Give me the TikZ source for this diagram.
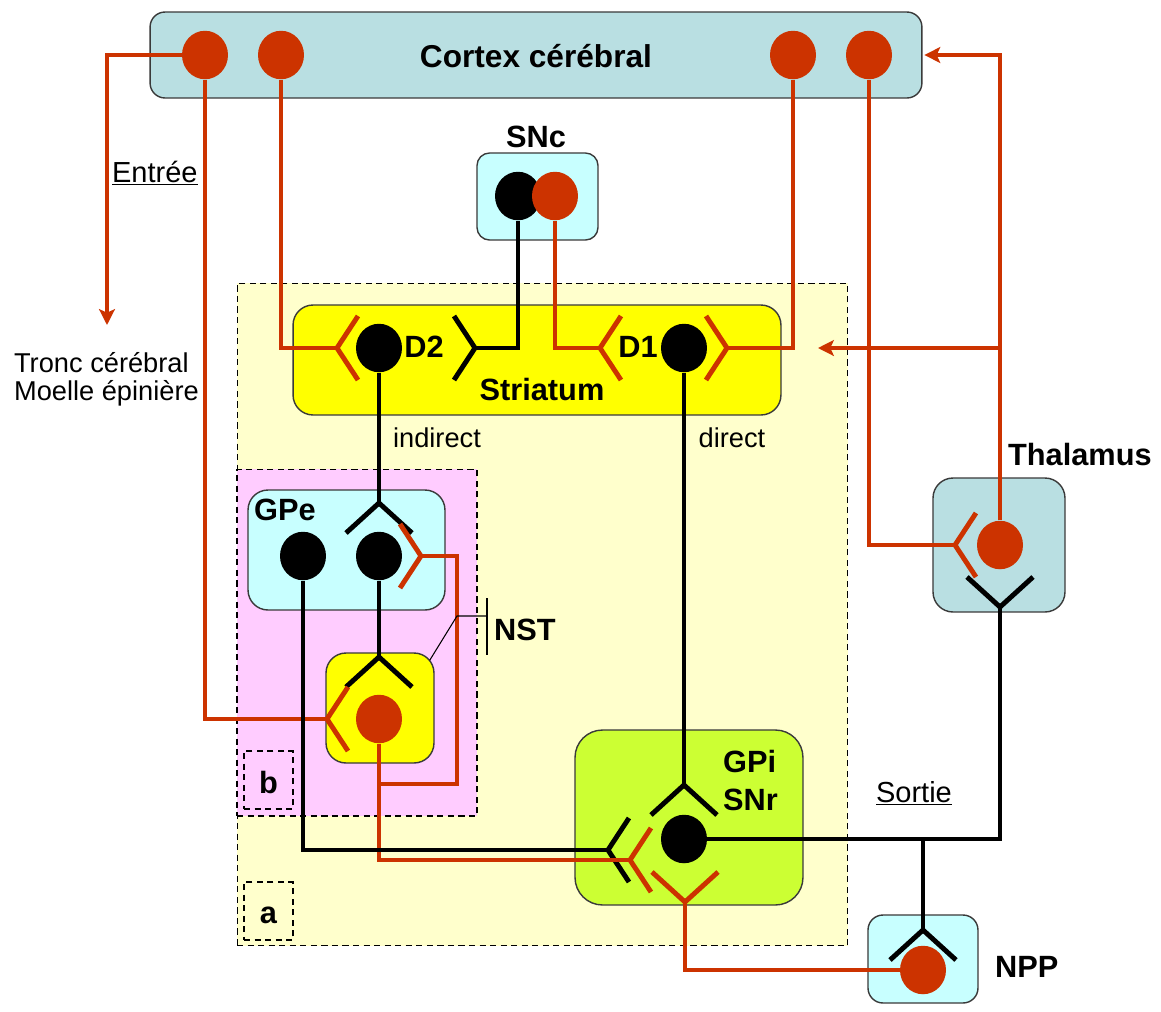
\documentclass[tikz,border=0pt]{standalone}
\usepackage{fontspec}
\setmainfont{Liberation Sans}
\usepackage{xcolor}
\usepackage{tikz}
\usetikzlibrary{arrows.meta}
\usetikzlibrary{calc}
\usetikzlibrary{positioning}
\usetikzlibrary{shapes.geometric}

\definecolor{neurored}{HTML}{CC3300}
\definecolor{cortexblue}{HTML}{B9DFE2}
\definecolor{palecyan}{HTML}{C8FFFF}
\definecolor{striayellow}{HTML}{FFFF00}
\definecolor{gpigreen}{HTML}{CCFF33}
\definecolor{zoneyellow}{HTML}{FFFFCC}
\definecolor{zonepink}{HTML}{FFCCFF}
\definecolor{boxedge}{HTML}{3A3A3A}

\begin{document}
\begin{tikzpicture}[x=0.02cm, y=-0.02cm, line join=miter,
	hrec/.pic={\draw (21,-32) -- (0,0) -- (21,32);},
	vrec/.pic={\draw (-33,30) -- (0,0) -- (33,30);}]
	\tikzstyle{box}=[draw=boxedge, line width=0.8pt, rectangle, rounded corners=0.4cm, inner sep=0pt]
	\tikzstyle{zone}=[draw=black, line width=0.6pt, dash pattern=on 3.5pt off 2.5pt, rectangle, inner sep=0pt]
	\tikzstyle{dotr}=[ellipse, fill=neurored, inner sep=0pt, minimum width=0.92cm, minimum height=0.97cm]
	\tikzstyle{dotk}=[ellipse, fill=black, inner sep=0pt, minimum width=0.92cm, minimum height=0.97cm]
	\tikzstyle{lab}=[font=\fontsize{17.5}{21}\selectfont\bfseries, inner sep=1pt]
	\tikzstyle{txt}=[font=\fontsize{15.5}{15.9}\selectfont, inner sep=1pt]
	\tikzstyle{utxt}=[font=\fontsize{16.5}{18}\selectfont, inner sep=1pt]
	\tikzstyle{rline}=[draw=neurored, line width=2.4pt]
	\tikzstyle{kline}=[draw=black, line width=2.4pt]
	\tikzstyle{rarm}=[color=neurored, line width=2.8pt]
	\tikzstyle{karm}=[color=black, line width=2.8pt]
	\tikzstyle{headarrow}=[-{Stealth[length=9pt,width=9pt,inset=2pt]}]
	\tikzstyle{callout}=[draw=black, line width=0.6pt]

	\useasboundingbox[fill=white] (0,0) rectangle (1161,1012);

	\node[zone, fill=zoneyellow, minimum width=12.22cm, minimum height=13.26cm] (zonea) at (542.5,614.5) {};
	\node[zone, fill=zonepink, minimum width=4.8cm, minimum height=6.94cm] (zoneb) at (357,642.5) {};
	\node[zone, minimum width=0.98cm, minimum height=1.16cm] (taga) at (268.5,911) {};
	\node[zone, minimum width=0.98cm, minimum height=1.16cm] (tagb) at (268.5,780) {};
	\node[lab, anchor=base] at (268.5,923) {a};
	\node[lab, anchor=base] at (268.5,793) {b};

	\node[box, fill=cortexblue, rounded corners=0.3cm, minimum width=15.44cm, minimum height=1.72cm] (cortex) at (536,55) {};
	\node[lab, anchor=base, font=\fontsize{18}{21}\selectfont\bfseries] (cortexlab) at (536,67) {Cortex cérébral};
	\node[box, fill=palecyan, rounded corners=0.25cm, minimum width=2.42cm, minimum height=1.74cm] (snc) at (537.5,196.5) {};
	\node[lab, anchor=base] (snclab) at (536,147) {SNc};
	\node[box, fill=striayellow, minimum width=9.76cm, minimum height=2.2cm] (striatum) at (537,360) {};
	\node[lab, anchor=base] (strialab) at (542,400) {Striatum};
	\node[lab, anchor=base] (d2lab) at (424,357) {D2};
	\node[lab, anchor=base] (d1lab) at (638,357) {D1};
	\node[box, fill=palecyan, minimum width=3.94cm, minimum height=2.4cm] (gpe) at (346.5,550) {};
	\node[lab, anchor=base west] (gpelab) at (252,520) {GPe};
	\node[box, fill=striayellow, minimum width=2.16cm, minimum height=2.2cm] (nst) at (380,708) {};
	\node[box, fill=gpigreen, rounded corners=0.55cm, minimum width=4.56cm, minimum height=3.5cm] (gpi) at (689,817.5) {};
	\node[lab, anchor=base west] (gpilab) at (721,772) {GPi};
	\node[lab, anchor=base west] (snrlab) at (721,810) {SNr};
	\node[box, fill=cortexblue, minimum width=2.64cm, minimum height=2.68cm] (thal) at (999,545) {};
	\node[lab, anchor=base west] (thallab) at (1006,465) {Thalamus};
	\node[box, fill=palecyan, rounded corners=0.3cm, minimum width=2.2cm, minimum height=1.76cm] (npp) at (923,959) {};
	\node[lab, anchor=base west] (npplab) at (993,977) {NPP};

	\node[utxt, anchor=base west] (entree) at (110,182) {\underline{Entrée}};
	\node[utxt, anchor=base west] (sortie) at (874,802) {\underline{Sortie}};
	\node[txt, anchor=base west, align=left] (tronclab) at (12,400) {Tronc cérébral\\Moelle épinière};
	\node[txt, anchor=base] (indlab) at (437,447) {indirect};
	\node[txt, anchor=base] (dirlab) at (732,447) {direct};

	\node[dotr] (c1) at (205,55) {};
	\node[dotr] (c2) at (281,55) {};
	\node[dotr] (c3) at (793,55) {};
	\node[dotr] (c4) at (869,55) {};
	\node[dotk] (snck) at (518,196) {};
	\node[dotr] (sncr) at (555,196) {};
	\node[dotk] (d2) at (379,348) {};
	\node[dotk] (d1) at (684,348) {};
	\node[dotk] (gpel) at (303,556) {};
	\node[dotk] (gper) at (379,556) {};
	\node[dotr] (nstr) at (379,719) {};
	\node[dotk] (gpik) at (684,839) {};
	\node[dotr] (thalr) at (1000,545) {};
	\node[dotr] (nppr) at (923,970) {};

	\coordinate (rd2c) at (337,348);
	\coordinate (rd2s) at (475,348);
	\coordinate (rd1s) at (600,348);
	\coordinate (rd1c) at (727,348);
	\coordinate (rgpe) at (379,503);
	\coordinate (rgpen) at (421,556);
	\coordinate (rnstg) at (379,657);
	\coordinate (rnstc) at (327,719);
	\coordinate (rgpid) at (684,785);
	\coordinate (rgpig) at (608,850);
	\coordinate (rgpin) at (630,860);
	\coordinate (rgpip) at (685,902);
	\coordinate (rthc) at (955,545);
	\coordinate (rthg) at (1000,607);
	\coordinate (rnpp) at (923,930);
	\coordinate (tronc) at (107,325);
	\coordinate (striain) at (818,348);
	\coordinate (nstloop) at (457,784);
	\coordinate (nstbar) at (487,616);

	\pic[rarm] at (rd2c) {hrec};
	\pic[karm, xscale=-1] at (rd2s) {hrec};
	\pic[rarm] at (rd1s) {hrec};
	\pic[rarm, xscale=-1] at (rd1c) {hrec};
	\pic[karm] at (rgpe) {vrec};
	\pic[rarm, xscale=-1] at (rgpen) {hrec};
	\pic[karm] at (rnstg) {vrec};
	\pic[rarm] at (rnstc) {hrec};
	\pic[karm] at (rgpid) {vrec};
	\pic[karm] at (rgpig) {hrec};
	\pic[rarm] at (rgpin) {hrec};
	\pic[rarm, yscale=-1] at (rgpip) {vrec};
	\pic[rarm] at (rthc) {hrec};
	\pic[karm, yscale=-1] at (rthg) {vrec};
	\pic[karm] at (rnpp) {vrec};

	\draw[rline, headarrow] (c1.west) -| (tronc);
	\draw[rline] (c1) |- (rnstc);
	\draw[rline] (c2) |- (rd2c);
	\draw[rline] (c3) |- (rd1c);
	\draw[rline] (c4) |- (rthc);
	\draw[rline] (sncr) |- (rd1s);
	\draw[rline, headarrow, shorten >=1pt] (thalr) |- (cortex.east);
	\draw[rline, headarrow] (thalr |- striain) -- (striain);
	\draw[rline] (nstr) |- (rgpin);
	\draw[rline] (nstr |- nstloop) -- (nstloop) |- (rgpen);
	\draw[rline] (nppr) -| (rgpip);
	\draw[kline] (snck) |- (rd2s);
	\draw[kline] (d2) -- (rgpe);
	\draw[kline] (d1) -- (rgpid);
	\draw[kline] (gpel) |- (rgpig);
	\draw[kline] (gper) -- (rnstg);
	\draw[kline] (gpik) -| (rthg);
	\draw[kline] (rnpp |- gpik) -- (rnpp);

	\node[lab, anchor=base west] (nstlab) at (492,640) {NST};
	\draw[callout] (nst.north east) ++(-5,8) -- (457,616) -- (nstbar);
	\draw[callout] (nstbar) ++(0,-18) -- ++(0,57);
\end{tikzpicture}
\end{document}
